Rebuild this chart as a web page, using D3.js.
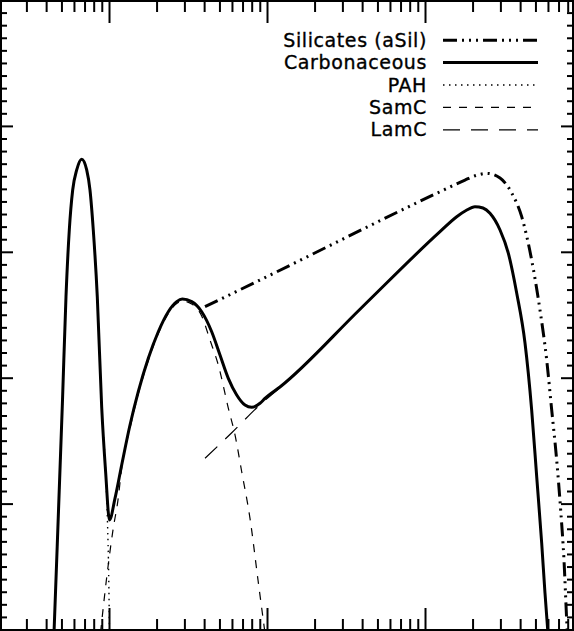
<!DOCTYPE html>
<html>
<head>
<meta charset="utf-8">
<style>
  html, body { margin: 0; padding: 0; background: #fff; }
  svg { display: block; }
</style>
</head>
<body>
<script src="https://cdn.jsdelivr.net/npm/d3@7/dist/d3.min.js"></script>
<script>

    // grain size (nm) and log size distribution
    const silSize = [4.052, 8.605, 124.4, 179.1, 210.3, 245.7, 298.4, 353.8, 409.2, 473.3, 534.2, 589.1, 633.6, 681.3, 722.2, 757.9, 788.3, 797.8];
    const silVal  = [2.564, 2.763, 3.477, 3.570, 3.606, 3.623, 3.586, 3.467, 3.279, 2.934, 2.538, 2.141, 1.744, 1.347, 0.949, 0.552, 0.076, -0.052];

    const carbSize = [0.4486, 0.4549, 0.5077, 0.5342, 0.5606, 0.5890, 0.6245, 0.6715, 0.7224, 0.7578, 0.7952, 0.8430, 0.8987, 0.9528, 1.007,
                      1.091, 1.203, 1.358, 1.532, 1.773, 2.051, 2.373, 2.682, 2.910, 3.337, 3.861, 4.466, 5.040, 5.689, 6.430, 7.256, 8.000,
                      9.028, 9.710, 12.08, 38.78, 124.4, 158.7, 181.8, 207.2, 232.9, 257.8, 298.4, 336.6, 380.4, 429.4, 473.3, 509.2, 547.6, 574.6, 600.5];
    const carbVal  = [-0.028, 0.179, 1.819, 2.643, 3.173, 3.491, 3.650, 3.735, 3.650, 3.491, 3.173, 2.643, 1.767, 1.243, 0.870,
                      1.042, 1.307, 1.624, 1.889, 2.154, 2.365, 2.524, 2.604, 2.625, 2.604, 2.524, 2.365, 2.180, 1.995, 1.863, 1.783, 1.765,
                      1.797, 1.836, 1.926, 2.544, 3.160, 3.279, 3.328, 3.358, 3.348, 3.306, 3.173, 2.990, 2.673, 2.276, 1.743, 1.214, 0.687, 0.290, -0.036];

    const pahSize = [0.4486, 0.4549, 0.5077, 0.5342, 0.5606, 0.5890, 0.6245, 0.6715, 0.7224, 0.7578, 0.7952, 0.8430, 0.8987, 0.9528, 0.978, 0.9954, 1.007];
    const pahVal  = [-0.028, 0.179, 1.819, 2.643, 3.173, 3.491, 3.650, 3.735, 3.650, 3.491, 3.173, 2.643, 1.767, 1.243, 0.854, 0.433, -0.028];

    const samcSize = [0.8833, 0.9710, 1.0644, 1.140, 1.203, 1.358, 1.532, 1.773, 2.051, 2.373, 2.682, 2.910, 3.337, 3.861, 4.357, 4.917, 5.689, 6.273, 6.917, 7.804, 8.770, 9.710];
    const samcVal  = [-0.028, 0.433, 0.806, 1.029, 1.283, 1.600, 1.871, 2.137, 2.351, 2.510, 2.589, 2.609, 2.585, 2.490, 2.299, 2.101, 1.759, 1.545, 1.253, 0.883, 0.393, -0.028];

    const lamcSize = [4.052, 6.003, 9.028, 12.08, 38.78, 124.4, 158.7, 181.8, 207.2, 232.9, 257.8, 298.4, 336.6, 380.4, 429.4, 473.3, 509.2, 547.6, 574.6, 600.5];
    const lamcVal  = [1.360, 1.565, 1.785, 1.922, 2.544, 3.160, 3.279, 3.328, 3.358, 3.348, 3.306, 3.173, 2.990, 2.673, 2.276, 1.743, 1.214, 0.687, 0.290, -0.036];

    const seriesNames = ["Silicates (aSil)", "Carbonaceous", "PAH", "SamC", "LamC"];

    const width = 574;
    const height = 631;

    // log size axis, linear (log-valued) y axis
    const x = d3.scaleLog().domain([0.2042, 877]).range([0, width]);
    const y = d3.scaleLinear().domain([0, 5]).range([629.5, 0]);

    const svg = d3.select("body")
        .append("svg")
        .attr("width", width)
        .attr("height", height);

    svg.append("defs").append("clipPath").attr("id", "plot")
        .append("rect").attr("x", 1).attr("y", 1).attr("width", width - 2).attr("height", height - 2);

    // ticks on all four sides, pointing inward, no labels
    const majorX = [1, 10, 100];
    const minorX = [];
    [0.1, 1, 10, 100].forEach(function (d) {
        for (let k = 2; k <= 9; k++) {
            const v = d * k;
            if (v > 0.2042 && v < 877) minorX.push(v);
        }
    });
    const majorY = d3.range(0, 5.01, 1);
    const minorY = d3.range(0, 5.001, 0.1).filter(function (v) { return Math.abs(v - Math.round(v)) > 0.01; });

    function drawAxis(axisFn, scale, values, size, transform) {
        const g = svg.append("g")
            .attr("transform", transform)
            .call(axisFn(scale).tickValues(values).tickSize(size).tickFormat(""));
        g.select(".domain").remove();
        g.selectAll("line").attr("stroke", "#000").attr("stroke-width", 2);
    }
    drawAxis(d3.axisBottom, x, minorX, -11, "translate(0," + (height - 1) + ")");
    drawAxis(d3.axisBottom, x, majorX, -22, "translate(0," + (height - 1) + ")");
    drawAxis(d3.axisTop, x, minorX, -11, "translate(0,1)");
    drawAxis(d3.axisTop, x, majorX, -22, "translate(0,1)");
    drawAxis(d3.axisLeft, y, minorY, -6, "translate(1,0)");
    drawAxis(d3.axisLeft, y, majorY, -12, "translate(1,0)");
    drawAxis(d3.axisRight, y, minorY, -6, "translate(" + (width - 1) + ",0)");
    drawAxis(d3.axisRight, y, majorY, -12, "translate(" + (width - 1) + ",0)");

    svg.append("rect")
        .attr("x", 1).attr("y", 1)
        .attr("width", width - 2).attr("height", height - 2)
        .attr("fill", "none").attr("stroke", "#000").attr("stroke-width", 2);

    const line = d3.line()
        .x(function (d) { return x(d[0]); })
        .y(function (d) { return y(d[1]); })
        .curve(d3.curveMonotoneX);

    const styles = [
        { size: silSize, val: silVal, w: 3, dash: "14,5,2,5,2,5,2,5" },
        { size: carbSize, val: carbVal, w: 3, dash: null },
        { size: pahSize, val: pahVal, w: 1.4, dash: "1.5,4.5" },
        { size: samcSize, val: samcVal, w: 1.2, dash: "8,8" },
        { size: lamcSize, val: lamcVal, w: 1.2, dash: "17,11" }
    ];

    const curves = svg.append("g").attr("clip-path", "url(#plot)");
    // thin ones first so the thick lines sit on top
    [4, 3, 2, 0, 1].forEach(function (i) {
        const s = styles[i];
        const pts = s.size.map(function (d, j) { return [d, s.val[j]]; });
        curves.append("path")
            .datum(pts)
            .attr("d", line)
            .attr("fill", "none")
            .attr("stroke", "#000")
            .attr("stroke-width", s.w)
            .attr("stroke-dasharray", s.dash)
            .attr("stroke-linejoin", "round");
    });

    // legend
    const legend = svg.append("g")
        .selectAll("g")
        .data(seriesNames)
        .enter()
        .append("g")
        .attr("transform", function (d, i) { return "translate(0," + (46.7 + i * 22.4) + ")"; });
    legend.append("text")
        .attr("x", 427)
        .attr("y", 0)
        .style("text-anchor", "end")
        .style("font-family", "DejaVu Sans")
        .style("font-size", "19px")
        .style("letter-spacing", "0.6px")
        .style("stroke", "#000")
        .style("stroke-width", "0.35px")
        .text(function (d) { return d; });
    legend.append("line")
        .attr("x1", 443).attr("x2", 538)
        .attr("y1", -6.5).attr("y2", -6.5)
        .attr("stroke", "#000")
        .attr("stroke-width", function (d, i) { return styles[i].w; })
        .attr("stroke-dasharray", function (d, i) { return styles[i].dash; });
</script>
</body>
</html>
